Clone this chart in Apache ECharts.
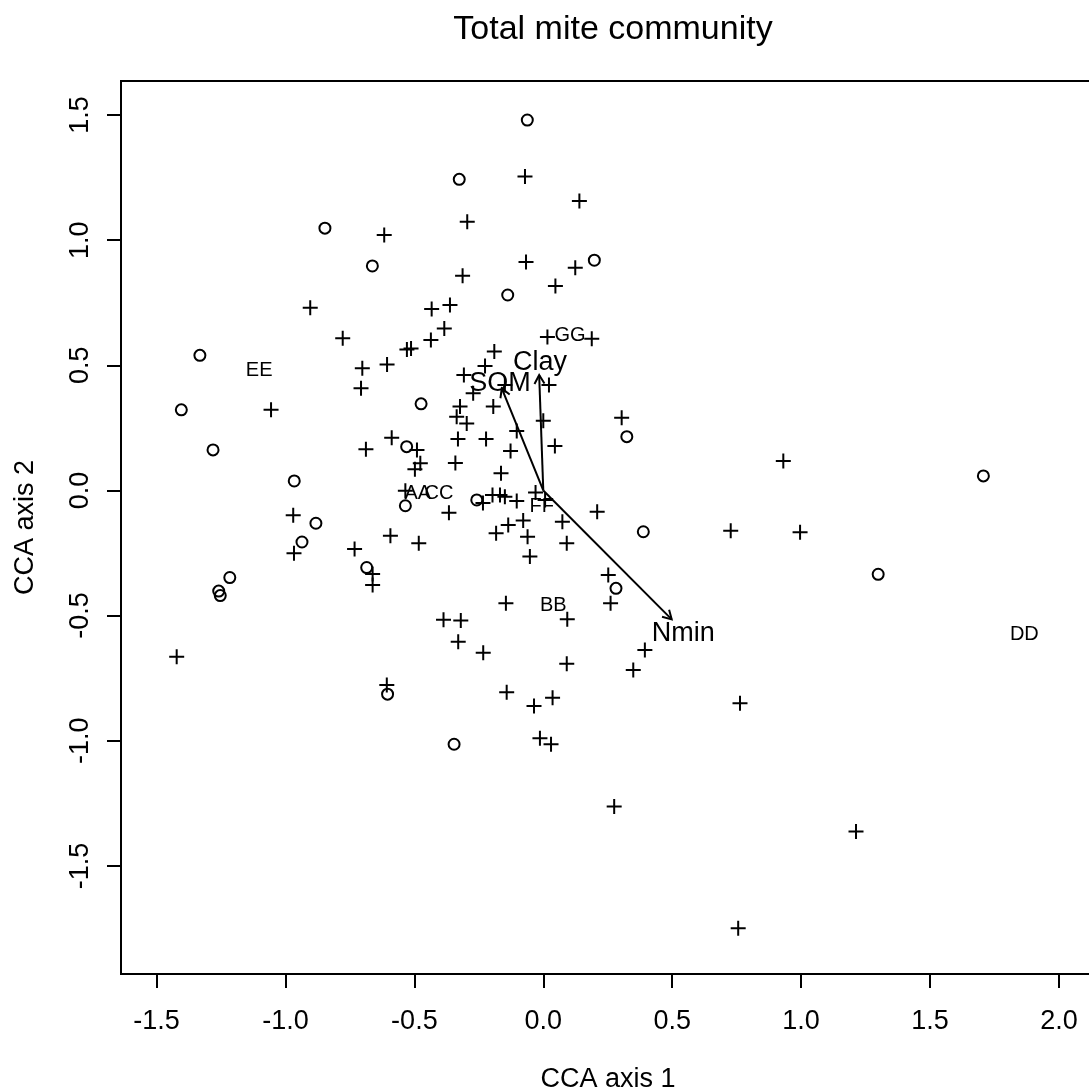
<!DOCTYPE html>
<html>
<head>
<meta charset="utf-8">
<script src="https://cdn.jsdelivr.net/npm/echarts@6/dist/echarts.min.js"></script>
<style>
  html, body { margin: 0; padding: 0; background: #fff; overflow: hidden; }
  /* canvas is a little wider than the window so the plot frame runs off the right edge */
  #main { width: 1110px; height: 1090px; }
</style>
</head>
<body>
<div id="main"></div>
<script>
// Site scores (open circles)
const siteX = [-0.847, -0.663, -1.332, -0.062, -0.326, 0.198, -0.138, -1.404, -0.474, -0.530,
               -1.281, -0.966, -0.535, -0.882, -0.936, -0.685, -1.216, -1.259, -1.253, -0.604,
               -0.346, 0.324, -0.258, 0.388, 0.282, 1.707, 1.299];
const siteY = [1.048, 0.897, 0.540, 1.480, 1.243, 0.920, 0.781, 0.322, 0.346, 0.175,
               0.162, 0.038, -0.061, -0.131, -0.206, -0.308, -0.348, -0.402, -0.420, -0.814,
               -1.014, 0.215, -0.038, -0.165, -0.391, 0.058, -0.335];

// Species scores (plus signs)
const speciesX = [-0.617, -0.904, -0.778, -0.702, -0.606, -0.529, -0.513, -0.436, -0.384, -0.433,
                  -0.362, -0.071, 0.140, -0.295, -0.067, 0.124, -0.313, 0.047, 0.016, 0.188,
                  -0.190, -0.226, -0.308, -1.056, -0.707, -0.588, -0.688, -0.490, -0.477, -0.498,
                  -0.535, -0.366, -0.970, -0.967, -0.593, -0.483, -0.732, -0.662, -0.662, -1.422,
                  -0.387, -0.607, -0.272, -0.149, 0.022, -0.194, -0.323, -0.336, -0.297, 0.000,
                  0.304, -0.103, -0.331, -0.222, 0.045, -0.127, -0.341, -0.164, -0.030, 0.007,
                  -0.234, -0.197, -0.168, -0.149, -0.103, 0.209, -0.078, -0.136, -0.183, 0.074,
                  -0.061, 0.091, 0.727, -0.052, 0.252, 0.261, -0.145, 0.093, -0.320, -0.330,
                  -0.233, 0.394, 0.091, 0.349, 0.931, 0.996, -0.142, -0.036, 0.036, 0.763,
                  -0.013, 0.030, 0.275, 0.756, 1.213];
const speciesY = [1.021, 0.730, 0.608, 0.488, 0.503, 0.563, 0.567, 0.601, 0.647, 0.725,
                  0.741, 1.254, 1.157, 1.074, 0.913, 0.890, 0.858, 0.817, 0.613, 0.606,
                  0.555, 0.497, 0.461, 0.322, 0.408, 0.211, 0.165, 0.162, 0.109, 0.085,
                  -0.001, -0.089, -0.099, -0.251, -0.181, -0.211, -0.234, -0.334, -0.378, -0.664,
                  -0.517, -0.777, 0.388, 0.421, 0.421, 0.335, 0.335, 0.295, 0.268, 0.279,
                  0.291, 0.238, 0.206, 0.206, 0.178, 0.158, 0.110, 0.069, -0.008, -0.038,
                  -0.050, -0.018, -0.018, -0.025, -0.042, -0.085, -0.120, -0.138, -0.171, -0.125,
                  -0.185, -0.211, -0.161, -0.264, -0.338, -0.451, -0.451, -0.515, -0.520, -0.604,
                  -0.648, -0.637, -0.692, -0.717, 0.118, -0.167, -0.806, -0.861, -0.828, -0.850,
                  -0.990, -1.014, -1.263, -1.749, -1.363];

// Factor centroids
const centroidNames = ['AA', 'BB', 'CC', 'DD', 'EE', 'FF', 'GG'];
const centroidX = [-0.487, 0.039, -0.405, 1.866, -1.102, -0.006, 0.104];
const centroidY = [-0.011, -0.461, -0.011, -0.575, 0.480, -0.065, 0.621];

// Environmental vectors (arrow tips) and their label positions
const biplotNames = ['Nmin', 'SOM', 'Clay'];
const biplotX = [0.498, -0.161, -0.016];
const biplotY = [-0.515, 0.408, 0.461];
const biplotLabelX = [0.543, -0.168, -0.013];
const biplotLabelY = [-0.571, 0.426, 0.511];

// Axis ticks
const xTicks = [-1.5, -1.0, -0.5, 0.0, 0.5, 1.0, 1.5, 2.0];
const yTicks = [-1.5, -1.0, -0.5, 0.0, 0.5, 1.0, 1.5];

const FONT = '"Liberation Sans", Arial, Helvetica, sans-serif';
const PLUS = 'path://M-1,-7.5H1V-1H7.5V1H1V7.5H-1V1H-7.5V-1H-1Z';

const chart = echarts.init(document.getElementById('main'), null, { renderer: 'canvas' });

const axisCommon = {
  type: 'value',
  axisLine: { show: true, onZero: false, lineStyle: { color: '#000', width: 2 } },
  axisTick: { show: true, length: 14, lineStyle: { color: '#000', width: 2 } },
  splitLine: { show: false },
  nameLocation: 'middle',
  nameTextStyle: { color: '#000', fontSize: 27, fontFamily: FONT },
};

chart.setOption({
  animation: false,
  backgroundColor: '#fff',
  title: {
    text: 'Total mite community',
    left: 608,
    top: 8,
    textAlign: 'center',
    textStyle: { color: '#000', fontSize: 34, fontWeight: 'normal', fontFamily: FONT }
  },
  grid: {
    left: 121, top: 81, width: 974, height: 893,
    outerBoundsMode: 'none',
    containLabel: false,
    show: true, borderColor: '#000', borderWidth: 2, backgroundColor: 'transparent'
  },
  xAxis: Object.assign({}, axisCommon, {
    min: -1.638, max: 2.140,
    name: 'CCA axis 1',
    nameGap: 92,
    axisTick: Object.assign({}, axisCommon.axisTick, { customValues: xTicks }),
    axisLabel: {
      customValues: xTicks, margin: 34, color: '#000', fontSize: 27, fontFamily: FONT,
      formatter: v => v.toFixed(1)
    }
  }),
  yAxis: Object.assign({}, axisCommon, {
    min: -1.932, max: 1.636,
    name: 'CCA axis 2',
    nameGap: 82,
    axisTick: Object.assign({}, axisCommon.axisTick, { customValues: yTicks }),
    axisLabel: {
      customValues: yTicks, margin: 27, rotate: 90, color: '#000', fontSize: 27, fontFamily: FONT,
      formatter: v => v.toFixed(1)
    }
  }),
  series: [
    {
      name: 'sites',
      type: 'scatter',
      symbol: 'circle',
      symbolSize: 11,
      itemStyle: { color: 'transparent', borderColor: '#000', borderWidth: 2, opacity: 1 },
      data: siteX.map((x, i) => [x, siteY[i]])
    },
    {
      name: 'species',
      type: 'scatter',
      symbol: PLUS,
      symbolSize: 15,
      itemStyle: { color: '#000', opacity: 1 },
      data: speciesX.map((x, i) => [x, speciesY[i]])
    },
    {
      name: 'centroids',
      type: 'scatter',
      symbolSize: 1,
      itemStyle: { color: 'transparent', opacity: 1 },
      label: {
        show: true, position: 'inside', color: '#000', fontSize: 20, fontFamily: FONT,
        formatter: p => centroidNames[p.dataIndex]
      },
      data: centroidX.map((x, i) => [x, centroidY[i]])
    },
    {
      name: 'biplot',
      type: 'custom',
      renderItem: function (params, api) {
        const i = params.dataIndex;
        const o = api.coord([0, 0]);
        const t = api.coord([api.value(0), api.value(1)]);
        const l = api.coord([api.value(2), api.value(3)]);
        const ang = Math.atan2(t[1] - o[1], t[0] - o[0]);
        const h = 10, a = Math.PI / 6;
        const p1 = [t[0] - h * Math.cos(ang - a), t[1] - h * Math.sin(ang - a)];
        const p2 = [t[0] - h * Math.cos(ang + a), t[1] - h * Math.sin(ang + a)];
        return {
          type: 'group',
          children: [
            { type: 'line', shape: { x1: o[0], y1: o[1], x2: t[0], y2: t[1] },
              style: { stroke: '#000', lineWidth: 2 } },
            { type: 'polyline', shape: { points: [p1, t, p2] },
              style: { stroke: '#000', lineWidth: 2, fill: null } },
            { type: 'text', x: l[0], y: l[1],
              style: { text: biplotNames[i], fontSize: 27, fontFamily: FONT, fill: '#000',
                       align: 'center', verticalAlign: 'middle' } }
          ]
        };
      },
      data: biplotNames.map((n, i) => [biplotX[i], biplotY[i], biplotLabelX[i], biplotLabelY[i]])
    }
  ]
});
</script>
</body>
</html>
